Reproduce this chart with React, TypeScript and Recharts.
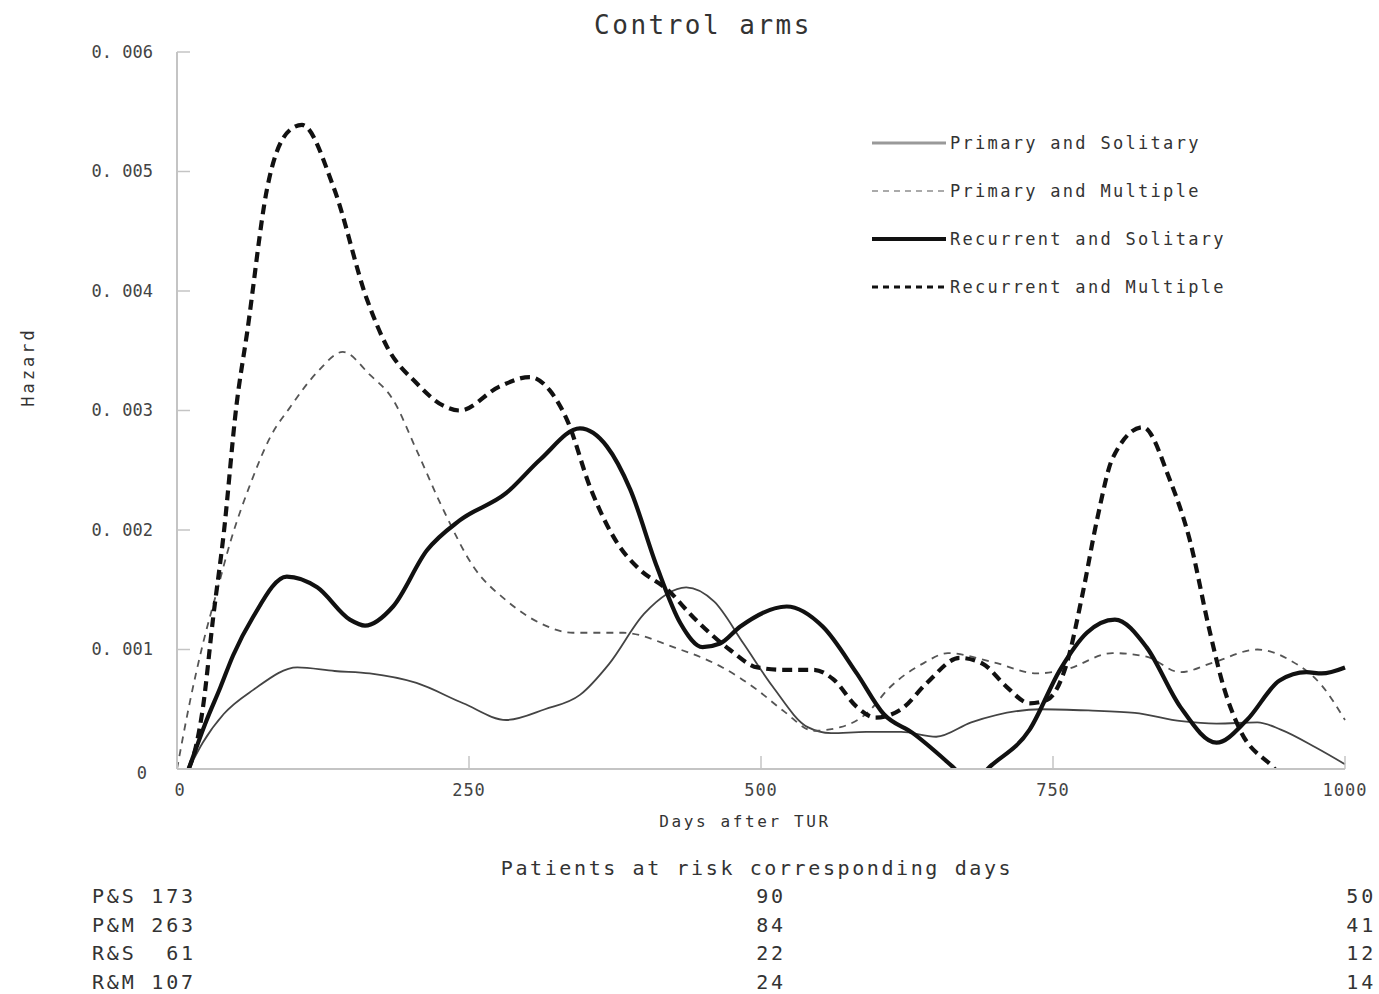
import { Legend, Line, LineChart, XAxis, YAxis } from 'recharts';

// hazard curves (days after TUR -> hazard)
const psDays = [10, 22, 40, 65, 103, 135, 165, 205, 245, 282, 315, 345, 370, 400, 436, 460, 485, 510, 540, 560, 590, 620, 650, 680, 740, 780, 820, 860, 890, 925, 945, 975, 1000];
const psHazard = [0, 0.00022, 0.00046, 0.00066, 0.00085, 0.00082, 0.0008, 0.00072, 0.00055, 0.00041, 0.0005, 0.00062, 0.00088, 0.0013, 0.00152, 0.0014, 0.00105, 0.00069, 0.00035, 0.0003, 0.00031, 0.00031, 0.00027, 0.00039, 0.0005, 0.00049, 0.00047, 0.0004, 0.00038, 0.00039, 0.00033, 0.00018, 0.00004];

const pmDays = [0, 11, 22, 34, 46, 63, 80, 97, 120, 142, 165, 185, 205, 228, 254, 282, 311, 339, 382, 425, 467, 497, 520, 545, 568, 591, 610, 640, 660, 700, 736, 760, 801, 830, 859, 887, 925, 953, 980, 1000];
const pmHazard = [0, 0.00056, 0.00104, 0.00148, 0.00191, 0.00239, 0.00278, 0.00303, 0.00332, 0.00349, 0.0033, 0.00309, 0.00267, 0.00217, 0.00169, 0.00141, 0.00122, 0.00114, 0.00114, 0.00102, 0.00085, 0.00066, 0.00048, 0.00032, 0.00035, 0.00047, 0.00068, 0.00089, 0.00097, 0.00089, 0.0008, 0.00083, 0.00097, 0.00094, 0.00081, 0.00089, 0.001, 0.00091, 0.0007, 0.00041];

const rsDays = [10, 25, 37, 48, 65, 94, 120, 148, 161, 185, 214, 242, 282, 311, 345, 368, 388, 411, 431, 450, 465, 482, 522, 553, 582, 605, 630, 664, 680, 696, 730, 756, 779, 803, 830, 859, 890, 916, 944, 967, 980, 1000];
const rsHazard = [0, 0.0004, 0.00068, 0.00095, 0.00127, 0.00161, 0.00152, 0.00125, 0.0012, 0.00136, 0.00183, 0.00208, 0.00231, 0.00259, 0.00285, 0.0027, 0.00234, 0.00169, 0.00122, 0.00102, 0.00105, 0.00119, 0.00136, 0.00119, 0.0008, 0.00046, 0.0003, 0.00002, -0.00012, 0.00002, 0.00033, 0.00083, 0.00114, 0.00125, 0.00102, 0.00052, 0.00022, 0.00041, 0.00074, 0.00081, 0.0008, 0.00085];

const rmDays = [10, 16, 22, 31, 40, 51, 60, 77, 97, 107, 134, 163, 180, 205, 228, 242, 276, 302, 319, 334, 354, 377, 396, 420, 442, 473, 497, 520, 545, 562, 582, 598, 620, 642, 670, 690, 710, 730, 745, 762, 775, 788, 801, 827, 850, 867, 884, 896, 910, 938, 960, 1000];
const rmHazard = [0, 0.00018, 0.0005, 0.00127, 0.00197, 0.00305, 0.00365, 0.00485, 0.00535, 0.00539, 0.00487, 0.00392, 0.00353, 0.00323, 0.00304, 0.003, 0.0032, 0.00328, 0.00317, 0.00292, 0.00235, 0.00189, 0.00167, 0.0015, 0.00127, 0.001, 0.00085, 0.00083, 0.00083, 0.00075, 0.00052, 0.00043, 0.0005, 0.00072, 0.00093, 0.00088, 0.00069, 0.00055, 0.00058, 0.00089, 0.00145, 0.0021, 0.0026, 0.00286, 0.00242, 0.00192, 0.00116, 0.00069, 0.00033, 0.00002, -0.0002, -0.0006];

const xTicks = [0, 250, 500, 750, 1000];
const yTicks = [0, 0.001, 0.002, 0.003, 0.004, 0.005, 0.006];

const riskGroups = ['P&S', 'P&M', 'R&S', 'R&M'];
const riskAtStart = [173, 263, 61, 107];
const riskAt500 = [90, 84, 22, 24];
const riskAt1000 = [50, 41, 12, 14];

const FONT = "'DejaVu Sans Mono', 'Liberation Mono', monospace";
const TEXT = '#333';
const AXIS = '#c4c4c4';

function toPoints(days: number[], values: number[]) {
  return days.map((day, i) => ({ day, hazard: values[i] }));
}

const series = [
  { key: 'ps', name: 'Primary and Solitary', data: toPoints(psDays, psHazard), stroke: '#444', width: 1.8, dash: undefined, legendStroke: '#999', legendWidth: 3 },
  { key: 'pm', name: 'Primary and Multiple', data: toPoints(pmDays, pmHazard), stroke: '#555', width: 1.8, dash: '7 6', legendStroke: '#aaa', legendWidth: 2 },
  { key: 'rs', name: 'Recurrent and Solitary', data: toPoints(rsDays, rsHazard), stroke: '#111', width: 4.2, dash: undefined, legendStroke: '#111', legendWidth: 4 },
  { key: 'rm', name: 'Recurrent and Multiple', data: toPoints(rmDays, rmHazard), stroke: '#111', width: 4.2, dash: '10 6', legendStroke: '#111', legendWidth: 3 },
];

function formatHazard(value: number) {
  if (value === 0) {
    return '0';
  }
  return value.toFixed(3).replace('.', '. ');
}

function YTick({ x, y, payload }: any) {
  const isZero = payload.value === 0;
  return (
    <g>
      <line x1={x} x2={x + 13} y1={y} y2={y} stroke={AXIS} strokeWidth={1.5} />
      <text
        x={isZero ? x - 30 : x - 24}
        y={isZero ? y + 4 : y}
        dy='0.35em'
        textAnchor='end'
        fontFamily={FONT}
        fontSize={17}
        fill='#444'
      >
        {formatHazard(payload.value)}
      </text>
    </g>
  );
}

function XTick({ x, y, payload }: any) {
  return (
    <g>
      {payload.value > 0 ? (
        <line x1={x} x2={x} y1={y} y2={y - 13} stroke={AXIS} strokeWidth={1.5} />
      ) : null}
      <text
        x={payload.value === 0 ? x + 3 : x}
        y={y + 21}
        dy='0.35em'
        textAnchor='middle'
        fontFamily={FONT}
        fontSize={17}
        letterSpacing={1}
        fill='#444'
      >
        {payload.value}
      </text>
    </g>
  );
}

function renderLegend() {
  return (
    <div style={{ fontFamily: FONT, fontSize: 17, letterSpacing: 2.3, color: TEXT }}>
      {series.map((s) => (
        <div key={s.key} style={{ display: 'flex', alignItems: 'center', height: 48 }}>
          <svg width={79} height={12} style={{ display: 'block' }}>
            <line
              x1={1}
              x2={75}
              y1={6}
              y2={6}
              stroke={s.legendStroke}
              strokeWidth={s.legendWidth}
              strokeDasharray={s.dash ? '6 5' : undefined}
            />
          </svg>
          <span style={{ whiteSpace: 'pre' }}>{s.name}</span>
        </div>
      ))}
    </div>
  );
}

function TextAt({
  x,
  y,
  children,
  size = 18,
  spacing = 2,
  align = 'center',
  rotate = false,
}: {
  x: number;
  y: number;
  children: any;
  size?: number;
  spacing?: number;
  align?: 'center' | 'left' | 'right';
  rotate?: boolean;
}) {
  const shift = align === 'center' ? '-50%' : align === 'right' ? '-100%' : '0';
  return (
    <div
      style={{
        position: 'absolute',
        left: x,
        top: y,
        transform: `translate(${shift}, -50%)${rotate ? ' rotate(-90deg)' : ''}`,
        fontFamily: FONT,
        fontSize: size,
        letterSpacing: spacing,
        color: TEXT,
        whiteSpace: 'pre',
        lineHeight: 1,
      }}
    >
      {children}
    </div>
  );
}

export default function App() {
  return (
    <div style={{ position: 'relative', width: 1379, height: 994, background: '#fff' }}>
      <style>{'body { margin: 0; }'}</style>

      <LineChart width={1379} height={994} margin={{ top: 52, right: 34, bottom: 185, left: 97 }}>
        <XAxis
          dataKey='day'
          type='number'
          domain={[0, 1000]}
          ticks={xTicks}
          height={40}
          tickSize={0}
          tickMargin={0}
          tickLine={false}
          axisLine={{ stroke: AXIS, strokeWidth: 2 }}
          tick={<XTick />}
        />
        <YAxis
          type='number'
          domain={[0, 0.006]}
          ticks={yTicks}
          allowDataOverflow
          width={80}
          tickSize={0}
          tickMargin={0}
          tickLine={false}
          axisLine={{ stroke: AXIS, strokeWidth: 2 }}
          tick={<YTick />}
        />
        <Legend
          layout='vertical'
          align='center'
          verticalAlign='middle'
          content={renderLegend}
          wrapperStyle={{ position: 'absolute', left: 871, top: 119, width: 380 }}
        />
        {series.map((s) => (
          <Line
            key={s.key}
            data={s.data}
            dataKey='hazard'
            name={s.name}
            type='monotone'
            stroke={s.stroke}
            strokeWidth={s.width}
            strokeDasharray={s.dash}
            dot={false}
            activeDot={false}
            isAnimationActive={false}
          />
        ))}
      </LineChart>

      <TextAt x={703} y={25} size={26} spacing={2.5}>
        Control arms
      </TextAt>
      <TextAt x={28} y={367} size={17} spacing={3} rotate>
        Hazard
      </TextAt>
      <TextAt x={745} y={822} size={16} spacing={2.6}>
        Days after TUR
      </TextAt>
      <TextAt x={757} y={868} size={20} spacing={2.6}>
        Patients at risk corresponding days
      </TextAt>

      {riskGroups.map((group, i) => {
        const y = 896 + i * 28.5;
        return (
          <div key={group}>
            <TextAt x={92} y={y} size={20} spacing={2.8} align='left'>
              {`${group} ${String(riskAtStart[i]).padStart(3, ' ')}`}
            </TextAt>
            <TextAt x={771} y={y} size={20} spacing={2.8}>
              {riskAt500[i]}
            </TextAt>
            <TextAt x={1376} y={y} size={20} spacing={2.8} align='right'>
              {riskAt1000[i]}
            </TextAt>
          </div>
        );
      })}
    </div>
  );
}
